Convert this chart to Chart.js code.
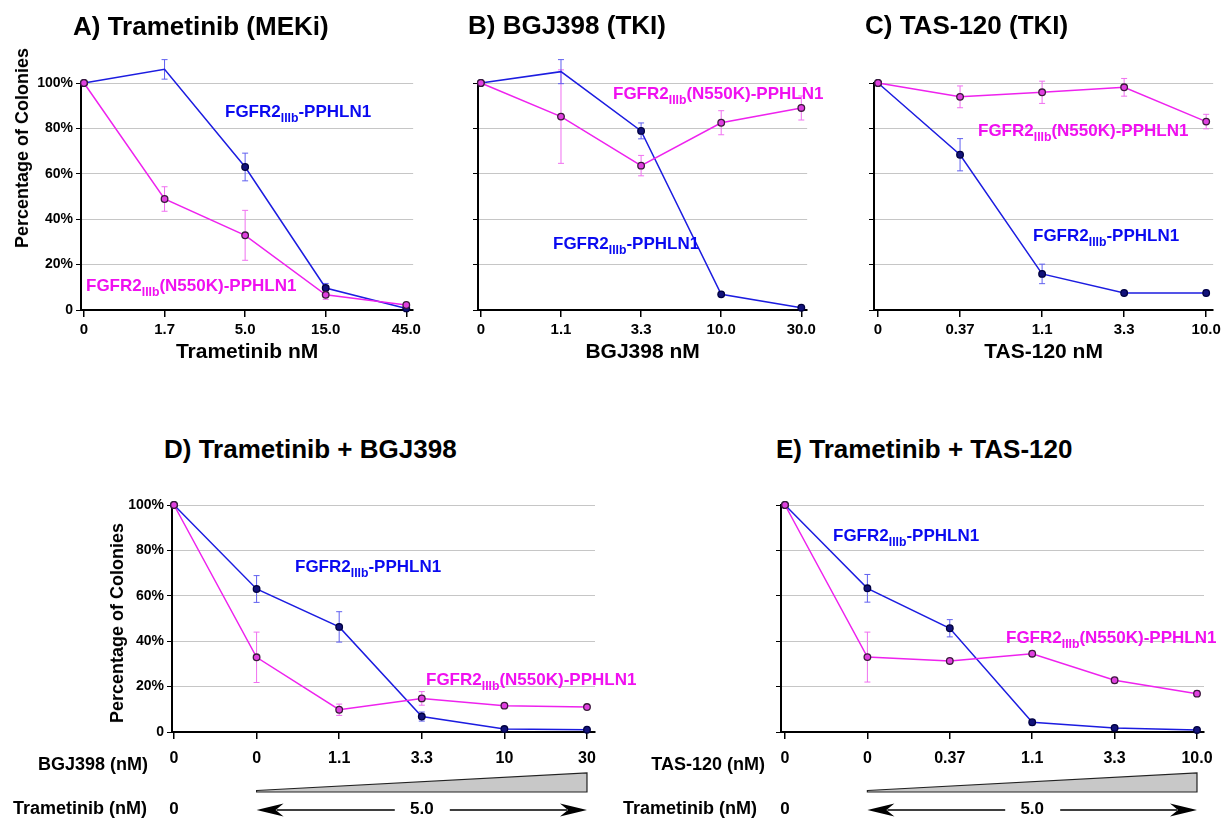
<!DOCTYPE html>
<html>
<head>
<meta charset="utf-8">
<script src="https://cdn.jsdelivr.net/npm/chart.js@4.4.1/dist/chart.umd.min.js"></script>
<style>
  body { margin: 0; background: #fff; width: 1225px; height: 821px; overflow: hidden; position: relative;
         font-family: "Liberation Sans", Arial, Helvetica, sans-serif; }
  canvas { position: absolute; }
  .t { position: absolute; white-space: nowrap; font-weight: bold; line-height: 1; }
  .t sub { font-size: 0.72em; vertical-align: -5px; line-height: 0; }
  .ytitle { position: absolute; white-space: nowrap; font-weight: bold; font-size: 18px; line-height: 1;
            transform: translate(-50%, -50%) rotate(-90deg); }
</style>
</head>
<body>
<script>
// doses (tick labels)
const concA = ['0', '1.7', '5.0', '15.0', '45.0'];
const concB = ['0', '1.1', '3.3', '10.0', '30.0'];
const concC = ['0', '0.37', '1.1', '3.3', '10.0'];
const concD = ['0', '0', '1.1', '3.3', '10', '30'];
const concE = ['0', '0', '0.37', '1.1', '3.3', '10.0'];
const tramDose = ['0', '5.0'];

// % colonies, FGFR2IIIb-PPHLN1 (wt) and FGFR2IIIb(N550K)-PPHLN1 (mut), with error bars
const wtA = [100, 106, 63, 9.7, 0.7];
const wtErrA = [0, 4.3, 6.1, 2, 0.5];
const mutA = [100, 48.9, 32.9, 6.7, 2.2];
const mutErrA = [0, 5.4, 11, 2, 0.8];

const wtB = [100, 105, 78.9, 6.9, 1.0];
const wtErrB = [0, 5.3, 3.5, 0.8, 0.5];
const mutB = [100, 85.2, 63.6, 82.5, 89.0];
const mutErrB = [0, 20.6, 4.5, 5.3, 5.3];

const wtC = [100, 68.4, 15.9, 7.5, 7.5];
const wtErrC = [0, 7.1, 4.3, 1, 1.2];
const mutC = [100, 93.9, 95.9, 98.1, 83.0];
const mutErrC = [0, 4.8, 4.9, 3.9, 3.2];

const wtD = [100, 63.0, 46.3, 6.8, 1.3, 1.0];
const wtErrD = [0, 5.9, 6.7, 2, 0.5, 0.4];
const mutD = [100, 32.9, 9.8, 14.8, 11.6, 11.0];
const mutErrD = [0, 11.1, 2.5, 3, 1, 0.6];

const wtE = [100, 63.3, 45.7, 4.3, 1.8, 0.9];
const wtErrE = [0, 6.1, 3.8, 1.2, 0.5, 0.4];
const mutE = [100, 33.0, 31.3, 34.5, 22.8, 16.9];
const mutErrE = [0, 11, 1, 1.2, 1.3, 1.3];

const FONT = '"Liberation Sans", Arial, Helvetica, sans-serif';
Chart.defaults.font.family = FONT;
Chart.defaults.font.weight = 'bold';
Chart.defaults.color = '#000';

const blueLine = '#1c1ce0', blueErr = '#6060f0', bluePt = '#12127a';
const magLine = '#ee22ee', magErr = '#f070f0', magPt = '#e040e0';

function pts(arr) {
  return arr.map((v, i) => ({ x: i, y: v }));
}

const errorBars = {
  id: 'errorBars',
  beforeDatasetsDraw(chart) {
    const ctx = chart.ctx, y = chart.scales.y;
    chart.data.datasets.forEach((ds, di) => {
      const meta = chart.getDatasetMeta(di);
      ctx.save();
      ctx.strokeStyle = ds.errColor;
      ctx.lineWidth = 1;
      ds.errors.forEach((e, i) => {
        if (!e) return;
        const p = meta.data[i], v = ds.data[i].y;
        const y1 = y.getPixelForValue(v + e), y2 = y.getPixelForValue(v - e);
        ctx.beginPath();
        ctx.moveTo(p.x, y1); ctx.lineTo(p.x, y2);
        ctx.moveTo(p.x - 3, y1); ctx.lineTo(p.x + 3, y1);
        ctx.moveTo(p.x - 3, y2); ctx.lineTo(p.x + 3, y2);
        ctx.stroke();
      });
      ctx.restore();
    });
  }
};

function arrowHead(ctx, tipX, y, dir) {
  ctx.beginPath();
  ctx.moveTo(tipX, y);
  ctx.lineTo(tipX + dir * 27, y - 6.5);
  ctx.lineTo(tipX + dir * 19, y);
  ctx.lineTo(tipX + dir * 27, y + 6.5);
  ctx.closePath();
  ctx.fill();
}

// dose rows under the combination panels
const doseRows = {
  id: 'doseRows',
  afterDraw(chart, args, o) {
    if (!o.drug) return;
    const ctx = chart.ctx, x = chart.scales.x;
    const bottom = chart.chartArea.bottom, axisX = chart.chartArea.left;
    const x0 = x.getPixelForValue(0), x1 = x.getPixelForValue(1);
    const xm = x.getPixelForValue(3), x5 = x.getPixelForValue(5);
    const drugY = bottom + 33, tramY = bottom + 77;
    ctx.save();
    ctx.fillStyle = '#000';
    ctx.textBaseline = 'middle';
    ctx.font = 'bold 18px ' + FONT;
    ctx.textAlign = 'right';
    ctx.fillText(o.drug, axisX - o.drugGap, drugY);
    ctx.fillText('Trametinib (nM)', axisX - o.tramGap, tramY);
    ctx.textAlign = 'center';
    ctx.font = 'bold 17px ' + FONT;
    ctx.fillText(tramDose[0], x0, tramY);
    ctx.fillText(tramDose[1], xm, tramY);

    // wedge
    const wTop = bottom + 41, wBase = bottom + 60;
    ctx.beginPath();
    ctx.moveTo(x1, wBase - 1.5);
    ctx.lineTo(x5, wTop);
    ctx.lineTo(x5, wBase);
    ctx.lineTo(x1, wBase);
    ctx.closePath();
    ctx.fillStyle = '#c8c8c8';
    ctx.fill();
    ctx.strokeStyle = '#222';
    ctx.lineWidth = 1.2;
    ctx.stroke();

    // double arrow
    const ay = tramY + 1;
    ctx.strokeStyle = '#000';
    ctx.lineWidth = 1.5;
    ctx.beginPath();
    ctx.moveTo(x1 + 20, ay); ctx.lineTo(xm - 27, ay);
    ctx.moveTo(xm + 28, ay); ctx.lineTo(x5 - 20, ay);
    ctx.stroke();
    ctx.fillStyle = '#000';
    arrowHead(ctx, x1, ay, 1);
    arrowHead(ctx, x5, ay, -1);
    ctx.restore();
  }
};

function panel(p) {
  const cv = document.createElement('canvas');
  cv.width = p.w;
  cv.height = p.h;
  cv.style.left = p.left + 'px';
  cv.style.top = p.top + 'px';
  document.body.appendChild(cv);
  const common = { borderWidth: 1.5, pointRadius: 3.3, pointBorderWidth: 1.3, clip: false, tension: 0 };
  return new Chart(cv, {
    type: 'line',
    data: {
      datasets: [
        Object.assign({ data: pts(p.mut), errors: p.mutErr, errColor: magErr, borderColor: magLine,
          pointBackgroundColor: magPt, pointBorderColor: '#3a1a3a' }, common),
        Object.assign({ data: pts(p.wt), errors: p.wtErr, errColor: blueErr, borderColor: blueLine,
          pointBackgroundColor: bluePt, pointBorderColor: '#000040' }, common)
      ]
    },
    options: {
      responsive: false,
      animation: false,
      events: [],
      layout: { padding: { top: p.padTop, right: p.padRight, left: 0, bottom: 0 } },
      plugins: { legend: { display: false }, tooltip: { enabled: false }, doseRows: p.rows || {} },
      scales: {
        x: {
          type: 'linear', min: p.xMin, max: p.xMax,
          afterBuildTicks: s => { s.ticks = p.labels.map((_, i) => ({ value: i })); },
          afterFit: s => { s.height = p.xHeight; },
          ticks: { callback: (v, i) => p.labels[i], font: { size: p.tickSize, weight: 'bold' },
                   padding: p.tickPad, maxRotation: 0, autoSkip: false },
          grid: { drawOnChartArea: false, tickLength: 7, tickColor: '#000', lineWidth: 1.5 },
          border: { color: '#000', width: 2 },
          title: p.xTitle
            ? { display: true, text: p.xTitle, font: { size: 21, weight: 'bold' }, padding: { top: 0, bottom: 20 } }
            : { display: false }
        },
        y: {
          min: 0, max: 100,
          afterFit: s => { s.width = p.yWidth; },
          ticks: { stepSize: 20, display: p.yLabels, callback: v => (v === 0 ? '0' : v + '%'),
                   font: { size: 14, weight: 'bold' }, padding: 3 },
          grid: { color: '#c6c6c6', lineWidth: 1, tickColor: '#000', tickLength: 5 },
          border: { color: '#000', width: 2 }
        }
      }
    },
    plugins: [errorBars, doseRows]
  });
}

panel({ left: 0, top: 40, w: 425, h: 345, padTop: 43, padRight: 5, yWidth: 81, xHeight: 75,
  xMin: -0.037, xMax: 4.085, labels: concA, wt: wtA, wtErr: wtErrA, mut: mutA, mutErr: mutErrA,
  tickSize: 15, tickPad: 4, yLabels: true, xTitle: 'Trametinib nM' });
panel({ left: 425, top: 40, w: 395, h: 345, padTop: 43, padRight: 3, yWidth: 53, xHeight: 75,
  xMin: -0.036, xMax: 4.073, labels: concB, wt: wtB, wtErr: wtErrB, mut: mutB, mutErr: mutErrB,
  tickSize: 15, tickPad: 4, yLabels: false, xTitle: 'BGJ398 nM' });
panel({ left: 820, top: 40, w: 405, h: 345, padTop: 43, padRight: 11, yWidth: 54, xHeight: 75,
  xMin: -0.049, xMax: 4.085, labels: concC, wt: wtC, wtErr: wtErrC, mut: mutC, mutErr: mutErrC,
  tickSize: 15, tickPad: 4, yLabels: false, xTitle: 'TAS-120 nM' });
panel({ left: 0, top: 470, w: 610, h: 351, padTop: 35, padRight: 15, yWidth: 172, xHeight: 89,
  xMin: -0.024, xMax: 5.097, labels: concD, wt: wtD, wtErr: wtErrD, mut: mutD, mutErr: mutErrD,
  tickSize: 16, tickPad: 10, yLabels: true, rows: { drug: 'BGJ398 (nM)', drugGap: 24, tramGap: 25 } });
panel({ left: 610, top: 470, w: 615, h: 351, padTop: 35, padRight: 21, yWidth: 171, xHeight: 89,
  xMin: -0.0485, xMax: 5.085, labels: concE, wt: wtE, wtErr: wtErrE, mut: mutE, mutErr: mutErrE,
  tickSize: 16, tickPad: 10, yLabels: false, rows: { drug: 'TAS-120 (nM)', drugGap: 16, tramGap: 24 } });

// text placed by cap-centre
function addText(html, x, y, size, color) {
  const d = document.createElement('div');
  d.className = 't';
  d.innerHTML = html;
  d.style.left = x + 'px';
  d.style.top = (y - 0.49 * size) + 'px';
  d.style.fontSize = size + 'px';
  d.style.color = color;
  document.body.appendChild(d);
}
function addYTitle(text, cx, cy) {
  const d = document.createElement('div');
  d.className = 'ytitle';
  d.textContent = text;
  d.style.left = cx + 'px';
  d.style.top = cy + 'px';
  document.body.appendChild(d);
}

const WT = 'FGFR2<sub>IIIb</sub>-PPHLN1';
const MUT = 'FGFR2<sub>IIIb</sub>(N550K)-PPHLN1';
const blueTxt = '#0a0af0', magTxt = '#f010f0';

addText('A) Trametinib (MEKi)', 73, 26, 26, '#000');
addText('B) BGJ398 (TKI)', 468, 25, 26, '#000');
addText('C) TAS-120 (TKI)', 865, 25, 26, '#000');
addText('D) Trametinib + BGJ398', 164, 449, 26, '#000');
addText('E) Trametinib + TAS-120', 776, 449, 26, '#000');

addYTitle('Percentage of Colonies', 22, 148);
addYTitle('Percentage of Colonies', 117, 623);

addText(WT, 225, 111, 17, blueTxt);
addText(MUT, 86, 285, 17, magTxt);
addText(MUT, 613, 93, 17, magTxt);
addText(WT, 553, 243, 17, blueTxt);
addText(MUT, 978, 130, 17, magTxt);
addText(WT, 1033, 235, 17, blueTxt);
addText(WT, 295, 566, 17, blueTxt);
addText(MUT, 426, 679, 17, magTxt);
addText(WT, 833, 535, 17, blueTxt);
addText(MUT, 1006, 637, 17, magTxt);
</script>
</body>
</html>
